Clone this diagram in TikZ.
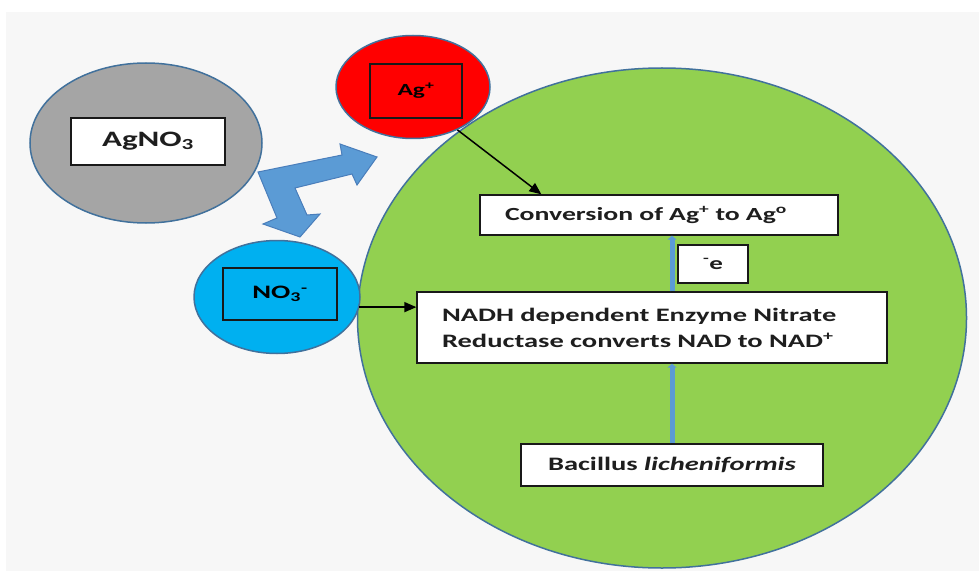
\documentclass[tikz,border=0pt]{standalone}
\usepackage{fontspec}
% Calibri-metric sans, widened to the proportions of the drawing
\setmainfont{Carlito}[FakeStretch=1.5]
\usetikzlibrary{shapes.geometric,arrows.meta,calc}

\definecolor{panel}{HTML}{F7F7F7}
\definecolor{rim}{HTML}{41719C}
\definecolor{greyball}{HTML}{A5A5A5}
\definecolor{redball}{HTML}{FF0000}
\definecolor{cyanball}{HTML}{00B0F0}
\definecolor{greenball}{HTML}{92D050}
\definecolor{flow}{HTML}{5B9BD5}
\definecolor{flowedge}{HTML}{4A7EBB}
\definecolor{ink}{HTML}{1E1E1E}

\tikzset{
  ball/.style={ellipse, draw=rim, line width=1.5pt, inner sep=0pt},
  whitebox/.style={rectangle, draw=black!90, line width=1.3pt, fill=white,
    text=ink, inner sep=0pt, font=\bfseries},
  tagbox/.style={rectangle, draw=black!90, line width=1.3pt,
    text=black, inner sep=0pt, font=\bfseries},
  sz/.style={font=\fontsize{#1}{26}\selectfont\bfseries},
  pointer/.style={draw=black, line width=1.5pt, -{Triangle[length=12pt,width=10pt]}},
  flowline/.style={draw=flow, line width=5pt, -{Triangle[length=4pt,width=9pt]}},
}

\begin{document}
\begin{tikzpicture}[x=1pt, y=-1pt]
\useasboundingbox (0,0) rectangle (979,572);
\fill[panel] (6,12) rectangle (979,571);

% cell and ions
\node[ball, fill=greenball, minimum width=609pt, minimum height=500pt] (cell) at (662,318) {};
\node[ball, fill=greyball, minimum width=232pt, minimum height=160pt] (salt) at (146,143) {};
\node[ball, fill=redball, minimum width=154pt, minimum height=103pt] (silver) at (413,87) {};
\node[ball, fill=cyanball, minimum width=166pt, minimum height=113pt] (nitrate) at (277,297) {};

% dissociation block arrow
\filldraw[fill=flow, draw=flowedge, line width=1pt, line join=miter]
  (258,172) -- (342,155) -- (340,144) -- (377,157) -- (357,185) -- (352,174)
  -- (295,188) -- (307,215) -- (320,214) -- (300,237) -- (263,224) -- (277,218)
  -- cycle;

% labels
\node[whitebox, sz=22, minimum width=154pt, minimum height=47pt] (saltlbl) at (148,141.5) {AgNO\textsubscript{3}};
\node[tagbox, sz=17, minimum width=92pt, minimum height=54pt] (silverlbl) at (416,91) {Ag\textsuperscript{+}};
\node[tagbox, sz=19, minimum width=114pt, minimum height=52pt] (nitratelbl) at (280,294) {NO\textsubscript{3}\textsuperscript{-}};

\node[whitebox, sz=18.5, text width=308pt, inner xsep=25pt, inner ysep=0pt,
  minimum height=40pt, align=left] (conv) at (659,215) {Conversion of Ag\textsuperscript{+} to Ag\textsuperscript{o}};
\node[whitebox, sz=18, minimum width=70pt, minimum height=38pt] (elec) at (713,264) {\textsuperscript{-}e};
\node[whitebox, sz=19, text width=420pt, inner xsep=25pt, inner ysep=0pt,
  minimum height=71pt, align=left] (nadh) at (652,327.5)
  {NADH dependent Enzyme Nitrate\\Reductase converts NAD to NAD\textsuperscript{+}};
\node[whitebox, sz=19, minimum width=302pt, minimum height=42pt] (bac) at (672,465) {Bacillus \textit{licheniformis}};

% electron flow
\draw[flowline] (bac.north) -- (bac.north |- nadh.south);
\draw[flowline] (bac.north |- nadh.north) -- (bac.north |- conv.south);

% ion uptake
\draw[pointer] (silver.-44) -- ([xshift=62pt]conv.north west);
\draw[pointer] (nitrate.-7) -- (nitrate.-7 -| nadh.west);
\end{tikzpicture}
\end{document}
